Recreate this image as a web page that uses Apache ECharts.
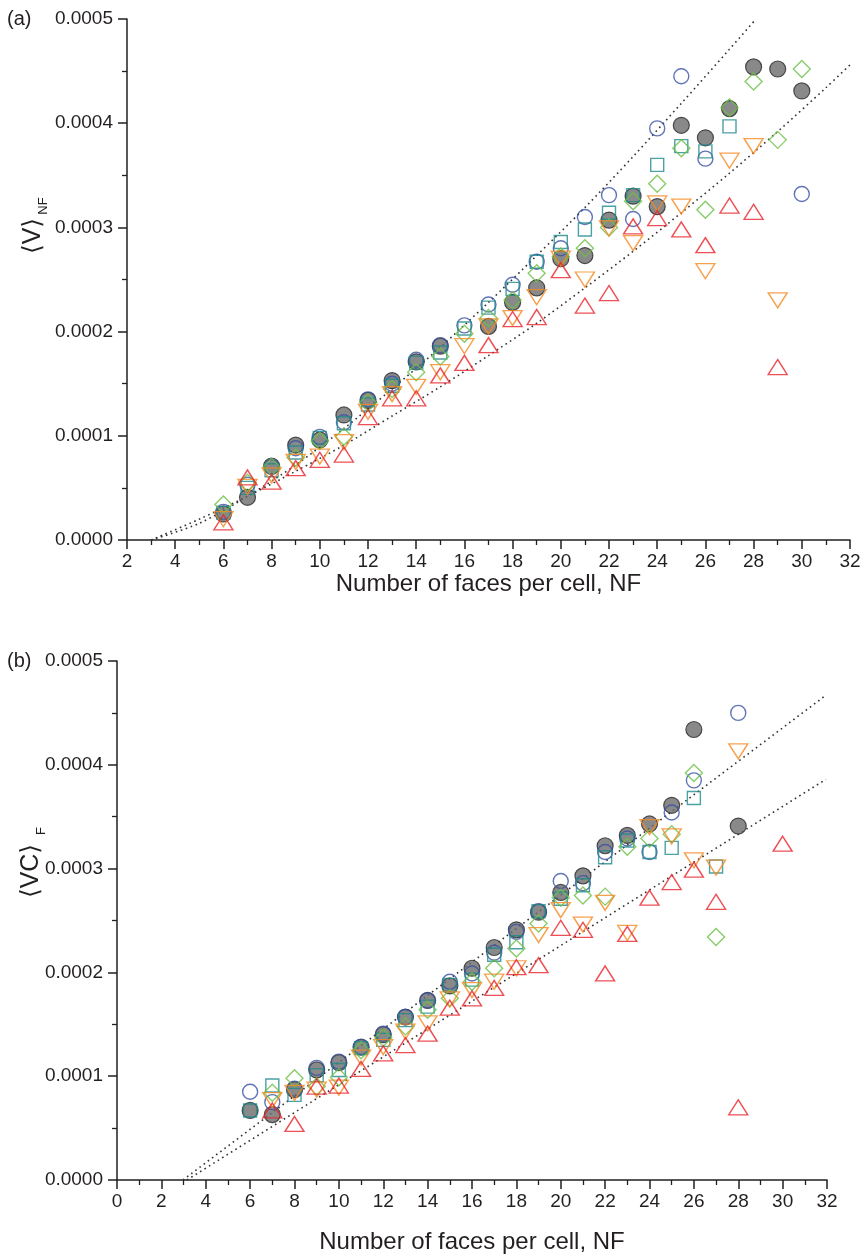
<!DOCTYPE html>
<html><head><meta charset="utf-8">
<script src="https://cdn.jsdelivr.net/npm/echarts@6/dist/echarts.min.js"></script>
<style>html,body{margin:0;padding:0;background:#fff}#c{width:866px;height:1258px}</style>
</head><body><div id="c"></div>
<script>
// ---------- data ----------
const NF = [6,7,8,9,10,11,12,13,14,15,16,17,18,19,20,21,22,23,24,25,26,27,28,29,30];

// panel (a)  <V>_NF
const aBlue   = [0.27e-4,0.53e-4,0.70e-4,0.88e-4,0.99e-4,1.13e-4,1.35e-4,1.50e-4,1.73e-4,1.87e-4,2.06e-4,2.26e-4,2.45e-4,2.67e-4,2.80e-4,3.10e-4,3.31e-4,3.08e-4,3.95e-4,4.45e-4,3.66e-4,null,null,null,3.32e-4];
const aTeal   = [0.26e-4,0.50e-4,0.67e-4,0.84e-4,0.98e-4,1.12e-4,1.30e-4,1.48e-4,1.70e-4,1.80e-4,2.03e-4,2.23e-4,2.41e-4,2.67e-4,2.86e-4,2.98e-4,3.14e-4,3.31e-4,3.60e-4,3.78e-4,3.73e-4,3.97e-4,null,null,null];
const aGreen  = [0.34e-4,0.55e-4,0.70e-4,0.79e-4,0.95e-4,0.99e-4,1.32e-4,1.45e-4,1.61e-4,1.76e-4,1.98e-4,2.13e-4,2.30e-4,2.56e-4,2.72e-4,2.80e-4,3.00e-4,3.25e-4,3.42e-4,3.76e-4,3.17e-4,4.15e-4,4.40e-4,3.84e-4,4.52e-4];
const aOrange = [0.20e-4,0.51e-4,0.62e-4,0.75e-4,0.80e-4,0.94e-4,1.23e-4,1.40e-4,1.47e-4,1.61e-4,1.86e-4,2.05e-4,2.13e-4,2.33e-4,2.70e-4,2.50e-4,2.99e-4,2.85e-4,3.23e-4,3.20e-4,2.58e-4,3.64e-4,3.78e-4,2.30e-4,null];
const aRed    = [0.17e-4,0.60e-4,0.56e-4,0.69e-4,0.77e-4,0.82e-4,1.18e-4,1.36e-4,1.36e-4,1.58e-4,1.70e-4,1.87e-4,2.12e-4,2.14e-4,2.59e-4,2.25e-4,2.37e-4,3.01e-4,3.09e-4,2.98e-4,2.83e-4,3.21e-4,3.15e-4,1.66e-4,null];
const aGray   = [0.25e-4,0.41e-4,0.71e-4,0.91e-4,0.96e-4,1.20e-4,1.34e-4,1.53e-4,1.71e-4,1.86e-4,null,2.05e-4,2.28e-4,2.42e-4,2.70e-4,2.73e-4,3.07e-4,3.30e-4,3.20e-4,3.98e-4,3.86e-4,4.14e-4,4.54e-4,4.52e-4,4.31e-4];

// panel (a) dotted fit curves
const aFitUpX = [3,5,7,9,11,13,15,17,19,21,23,25,27,28.1];
const aFitUpY = [0,0.16e-4,0.42e-4,0.72e-4,1.07e-4,1.45e-4,1.85e-4,2.28e-4,2.73e-4,3.19e-4,3.68e-4,4.19e-4,4.71e-4,5.0e-4];
const aFitLoX = [3,5,7,9,11,13,15,17,19,21,23,25,27,29,31,32];
const aFitLoY = [0,0.20e-4,0.42e-4,0.66e-4,0.91e-4,1.19e-4,1.47e-4,1.77e-4,2.08e-4,2.42e-4,2.77e-4,3.14e-4,3.52e-4,3.92e-4,4.34e-4,4.56e-4];

// panel (b)  <VC>_F
const bBlue   = [0.85e-4,0.75e-4,0.88e-4,1.08e-4,1.14e-4,1.28e-4,1.41e-4,1.57e-4,1.73e-4,1.91e-4,1.99e-4,2.19e-4,2.39e-4,2.59e-4,2.88e-4,2.86e-4,3.16e-4,3.29e-4,3.16e-4,3.54e-4,3.85e-4,null,4.50e-4,null,null];
const bTeal   = [0.67e-4,0.91e-4,0.82e-4,1.01e-4,1.06e-4,1.27e-4,1.35e-4,1.54e-4,1.67e-4,1.88e-4,1.93e-4,2.17e-4,2.29e-4,2.59e-4,2.71e-4,2.84e-4,3.11e-4,3.27e-4,3.16e-4,3.20e-4,3.68e-4,3.02e-4,null,null,null];
const bGreen  = [null,0.84e-4,0.98e-4,0.90e-4,0.99e-4,1.25e-4,1.37e-4,1.48e-4,1.64e-4,1.75e-4,1.91e-4,2.04e-4,2.23e-4,2.47e-4,2.72e-4,2.74e-4,2.73e-4,3.21e-4,3.29e-4,3.33e-4,3.92e-4,2.34e-4,null,null,null];
const bOrange = [null,0.77e-4,0.84e-4,0.87e-4,0.89e-4,1.18e-4,1.28e-4,1.43e-4,1.51e-4,1.74e-4,1.83e-4,1.91e-4,2.04e-4,2.36e-4,2.60e-4,2.46e-4,2.67e-4,2.38e-4,3.40e-4,3.31e-4,3.08e-4,3.01e-4,4.13e-4,null,null];
const bRed    = [null,0.67e-4,0.54e-4,0.90e-4,0.91e-4,1.07e-4,1.22e-4,1.30e-4,1.41e-4,1.66e-4,1.75e-4,1.85e-4,2.05e-4,2.07e-4,2.43e-4,2.41e-4,1.99e-4,2.37e-4,2.72e-4,2.87e-4,2.99e-4,2.68e-4,0.70e-4,null,3.24e-4];
const bGray   = [0.67e-4,0.63e-4,0.87e-4,1.06e-4,1.13e-4,1.28e-4,1.40e-4,1.57e-4,1.73e-4,1.87e-4,2.04e-4,2.24e-4,2.41e-4,2.58e-4,2.77e-4,2.93e-4,3.22e-4,3.32e-4,3.43e-4,3.61e-4,4.34e-4,null,3.41e-4,null,null];

// panel (b) dotted fit lines (end points)
const bFitUpX = [2.97,31.95];
const bFitUpY = [0,4.67e-4];
const bFitLoX = [3.15,31.95];
const bFitLoY = [0,3.86e-4];

// axis ranges / tick labels
const aXRange = [2,32], bXRange = [0,32], xStep = 2;
const yRange = [0,0.0005], yStep = 0.0001;
const xTitle = 'Number of faces per cell, NF';
const panelLabels = ['(a)','(b)'];

// ---------- chart ----------
const FONT = '"Liberation Sans", Arial, "DejaVu Sans", sans-serif';
const INK = '#231f20';
const pairs = (xs, ys) => xs.map((x,i)=> ys[i]==null ? null : [x, ys[i]]).filter(p=>p);

const styles = {
  gray:   {symbol:'circle',   size:16, color:'#6b6b6b', border:'#2a2a2a', fill:true},
  blue:   {symbol:'circle',   size:15, color:'#3a52a4'},
  teal:   {symbol:'rect',     size:13, color:'#1f8a8c'},
  green:  {symbol:'diamond',  size:[17,17], color:'#6cbf45'},
  orange: {symbol:'triangle', size:[19,15], color:'#f58a22', rotate:180},
  red:    {symbol:'triangle', size:[19,15], color:'#e8232b'}
};
function scat(key, ys, gi){
  const s = styles[key];
  return {
    type:'scatter', xAxisIndex:gi, yAxisIndex:gi, data:pairs(NF, ys),
    symbol:s.symbol, symbolSize:s.size, symbolRotate:s.rotate||0,
    itemStyle: s.fill ? {color:s.color, borderColor:s.border, borderWidth:1.2}
                      : {color:'rgba(0,0,0,0)', borderColor:s.color, borderWidth:1.4},
    emphasis:{disabled:true}, silent:true, z:3
  };
}
function fit(xs, ys, gi, smooth){
  return {type:'line', xAxisIndex:gi, yAxisIndex:gi, data:pairs(xs,ys), showSymbol:false, smooth:smooth,
    lineStyle:{color:'#333', width:1.6, type:[1.6,3.6]}, silent:true, z:2};
}
function xAxis(gi, r, gap){
  return {type:'value', gridIndex:gi, min:r[0], max:r[1], interval:xStep,
    name:xTitle, nameLocation:'middle', nameGap:gap,
    nameTextStyle:{fontFamily:FONT, fontSize:24, color:INK},
    axisLine:{show:true, onZero:false, lineStyle:{color:INK, width:1.5}},
    axisTick:{show:true, length:9, lineStyle:{color:INK, width:1.5}},
    minorTick:{show:true, splitNumber:2, length:5, lineStyle:{color:INK, width:1.3}},
    axisLabel:{fontFamily:FONT, fontSize:19, color:INK, margin:12},
    splitLine:{show:false}};
}
function yAxis(gi){
  return {type:'value', gridIndex:gi, min:yRange[0], max:yRange[1], interval:yStep,
    axisLine:{show:true, lineStyle:{color:INK, width:1.5}},
    axisTick:{show:true, length:9, lineStyle:{color:INK, width:1.5}},
    minorTick:{show:true, splitNumber:2, length:5, lineStyle:{color:INK, width:1.3}},
    axisLabel:{fontFamily:FONT, fontSize:19, color:INK, margin:14, formatter:v=>v.toFixed(4)},
    splitLine:{show:false}};
}
const txt = (x,y,text,size,rot,align) => ({type:'text', x:x, y:y, rotation:rot||0, silent:true,
  style:{text:text, fontFamily:FONT, fontSize:size, fill:INK, textAlign:align||'left', align:align||'left',
    textVerticalAlign:'middle', verticalAlign:'middle'}});

const chart = echarts.init(document.getElementById('c'), null, {renderer:'canvas'});
chart.setOption({
  animation:false,
  backgroundColor:'#fff',
  grid:[{left:127, top:19, width:723, height:521, containLabel:false},
        {left:117, top:661, width:710, height:519, containLabel:false}],
  xAxis:[xAxis(0,aXRange,30), xAxis(1,bXRange,50)],
  yAxis:[yAxis(0), yAxis(1)],
  series:[
    fit(aFitUpX,aFitUpY,0,0.3), fit(aFitLoX,aFitLoY,0,0.3),
    scat('gray',aGray,0), scat('blue',aBlue,0), scat('teal',aTeal,0), scat('green',aGreen,0), scat('orange',aOrange,0), scat('red',aRed,0),
    fit(bFitUpX,bFitUpY,1,false), fit(bFitLoX,bFitLoY,1,false),
    scat('gray',bGray,1), scat('blue',bBlue,1), scat('teal',bTeal,1), scat('green',bGreen,1), scat('orange',bOrange,1), scat('red',bRed,1)
  ],
  graphic:[
    txt(7,19,panelLabels[0],20), txt(7,661,panelLabels[1],20),
    txt(33,236,'⟨V⟩',25,Math.PI/2,'center'), txt(43,206,'NF',13,Math.PI/2,'center'),
    txt(31,871,'⟨VC⟩',25,Math.PI/2,'center'), txt(41,831,'F',13,Math.PI/2,'center')
  ]
});
</script></body></html>
